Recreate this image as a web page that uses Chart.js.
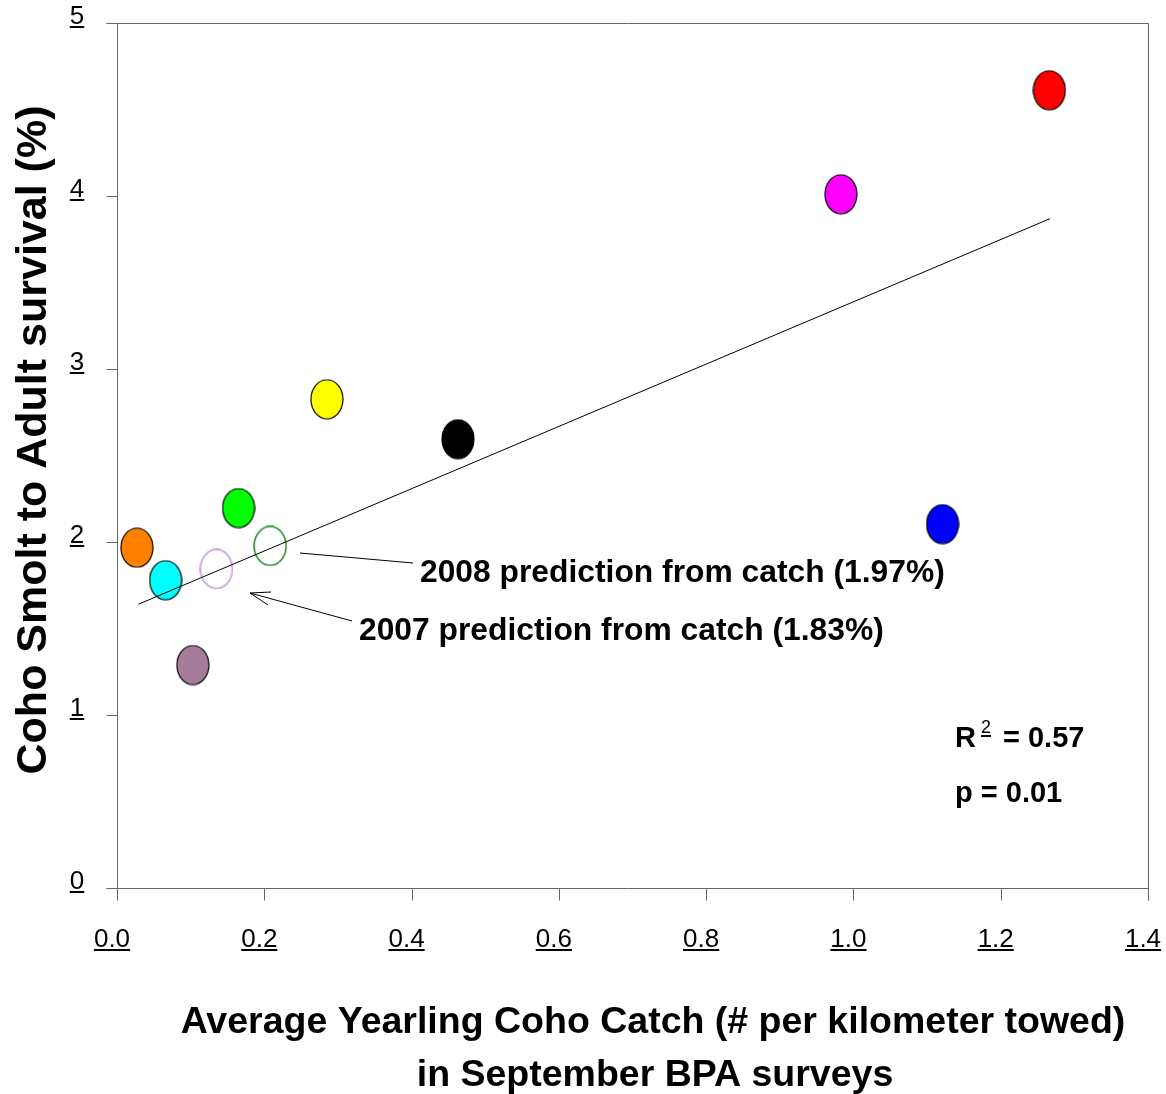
<!DOCTYPE html>
<html>
<head>
<meta charset="utf-8">
<script src="https://cdn.jsdelivr.net/npm/chart.js@4.4.0/dist/chart.umd.min.js"></script>
<style>
  body { margin: 0; background: #fff; }
  canvas { display: block; }
</style>
</head>
<body>
<canvas id="cohoChart" width="1166" height="1094"></canvas>
<script>
// observed years: catch vs survival
const catchX = [0.027, 0.066, 0.103, 0.165, 0.285, 0.463, 0.983, 1.121, 1.266];
const survivalY = [1.967, 1.779, 1.289, 2.196, 2.825, 2.594, 4.010, 2.103, 4.611];
const pointColors = ['#FF8000', '#00FFFF', '#A67C9B', '#00FF00', '#FFFF00', '#000000', '#FF00FF', '#0000FF', '#FF0000'];

// 2007 and 2008 predictions (open markers)
const predX = [0.135, 0.208];
const predY = [1.844, 1.977];
const predColors = ['#C096D8', '#1E8C1E'];

// regression line end points
const fitX = [0.029, 1.267];
const fitY = [1.640, 3.869];

const xTickValues = [0, 0.2, 0.4, 0.6, 0.8, 1.0, 1.2, 1.4];
const xTickLabels = ['0.0', '0.2', '0.4', '0.6', '0.8', '1.0', '1.2', '1.4'];
const yTickValues = [0, 1, 2, 3, 4, 5];
const yTickLabels = ['0', '1', '2', '3', '4', '5'];

function ellipseMarker(fill, stroke, lw) {
    const c = document.createElement('canvas');
    c.width = 34;
    c.height = 41;
    const g = c.getContext('2d');
    g.beginPath();
    g.ellipse(17, 20.5, 16, 19.5, 0, 0, Math.PI * 2);
    if (fill) {
        g.fillStyle = fill;
        g.fill();
    }
    g.lineWidth = lw;
    g.strokeStyle = stroke;
    g.stroke();
    return c;
}

const filledMarkers = pointColors.map(c => ellipseMarker(c, '#000', 1.2));
const openMarkers = predColors.map(c => ellipseMarker(null, c, 1.5));

const axisColor = '#666';

function underlinedText(ctx, txt, x, y, align) {
    ctx.textAlign = align;
    ctx.fillText(txt, x, y);
    const w = ctx.measureText(txt).width;
    let x0 = x;
    if (align === 'center') x0 = x - w / 2;
    if (align === 'right') x0 = x - w;
    ctx.fillRect(x0, y + 2, w, 2);
}

const decorPlugin = {
    id: 'decor',
    beforeDatasetsDraw(chart) {
        const ctx = chart.ctx;
        const xs = chart.scales.x, ys = chart.scales.y;
        const a = chart.chartArea;
        ctx.save();
        ctx.strokeStyle = axisColor;
        ctx.lineWidth = 1;
        ctx.beginPath();
        // left axis + bottom axis
        const L = Math.round(a.left) + 0.5, B = Math.round(a.bottom) + 0.5;
        const T = Math.round(a.top) + 0.5, R = Math.round(a.right) + 0.5;
        ctx.moveTo(L, T); ctx.lineTo(L, B);
        ctx.moveTo(L - 11, B); ctx.lineTo(R, B);
        // frame
        ctx.moveTo(L - 11, T); ctx.lineTo(R, T);
        ctx.moveTo(R, T); ctx.lineTo(R, B + 12);
        // y ticks
        yTickValues.forEach(v => {
            const py = Math.round(ys.getPixelForValue(v)) + 0.5;
            ctx.moveTo(L - 11, py); ctx.lineTo(L, py);
        });
        // x ticks
        xTickValues.forEach(v => {
            const px = Math.round(xs.getPixelForValue(v)) + 0.5;
            ctx.moveTo(px, B); ctx.lineTo(px, B + 12);
        });
        ctx.stroke();

        ctx.fillStyle = '#000';
        ctx.font = '26px "Liberation Sans", Arial, sans-serif';
        ctx.textBaseline = 'alphabetic';
        yTickValues.forEach((v, i) => {
            const py = ys.getPixelForValue(v);
            underlinedText(ctx, yTickLabels[i], 77, py + 1, 'center');
        });
        xTickValues.forEach((v, i) => {
            const px = xs.getPixelForValue(v);
            underlinedText(ctx, xTickLabels[i], px - 5, 947, 'center');
        });

        // axis titles
        ctx.font = 'bold 37.5px "Liberation Sans", Arial, sans-serif';
        ctx.textAlign = 'center';
        ctx.fillText('Average Yearling Coho Catch (# per kilometer towed)', 653, 1033);
        ctx.fillText('in September BPA surveys', 655, 1086);

        ctx.save();
        ctx.translate(46, 440);
        ctx.rotate(-Math.PI / 2);
        ctx.font = 'bold 43px "Liberation Sans", Arial, sans-serif';
        ctx.fillText('Coho Smolt to Adult survival (%)', 0, 0);
        ctx.restore();

        // annotations
        ctx.font = 'bold 31.8px "Liberation Sans", Arial, sans-serif';
        ctx.textAlign = 'left';
        ctx.fillText('2008 prediction from catch (1.97%)', 420, 582);
        ctx.fillText('2007 prediction from catch (1.83%)', 359, 640);

        ctx.strokeStyle = '#000';
        ctx.lineWidth = 1;
        ctx.beginPath();
        ctx.moveTo(300, 553); ctx.lineTo(413, 563);
        ctx.moveTo(352, 621); ctx.lineTo(250, 593);
        ctx.moveTo(250, 593); ctx.lineTo(271, 592);
        ctx.moveTo(250, 593); ctx.lineTo(268, 605);
        ctx.stroke();

        // statistics
        ctx.font = 'bold 29px "Liberation Sans", Arial, sans-serif';
        ctx.fillText('R', 955, 747);
        ctx.fillText('= 0.57', 1003, 747);
        ctx.fillText('p = 0.01', 955, 802);
        ctx.font = '18px "Liberation Sans", Arial, sans-serif';
        underlinedText(ctx, '2', 981, 733, 'left');
        ctx.restore();
    }
};

new Chart(document.getElementById('cohoChart'), {
    type: 'scatter',
    data: {
        datasets: [
            {
                type: 'line',
                data: fitX.map((x, i) => ({ x: x, y: fitY[i] })),
                borderColor: '#000',
                borderWidth: 1,
                pointRadius: 0,
                fill: false
            },
            {
                data: predX.map((x, i) => ({ x: x, y: predY[i] })),
                pointStyle: openMarkers
            },
            {
                data: catchX.map((x, i) => ({ x: x, y: survivalY[i] })),
                pointStyle: filledMarkers
            }
        ]
    },
    options: {
        responsive: false,
        animation: false,
        layout: { padding: { left: 117, right: 18, top: 23, bottom: 206 } },
        scales: {
            x: { type: 'linear', min: 0, max: 1.4, display: false },
            y: { type: 'linear', min: 0, max: 5, display: false }
        },
        plugins: {
            legend: { display: false },
            tooltip: { enabled: false }
        }
    },
    plugins: [decorPlugin]
});
</script>
</body>
</html>
